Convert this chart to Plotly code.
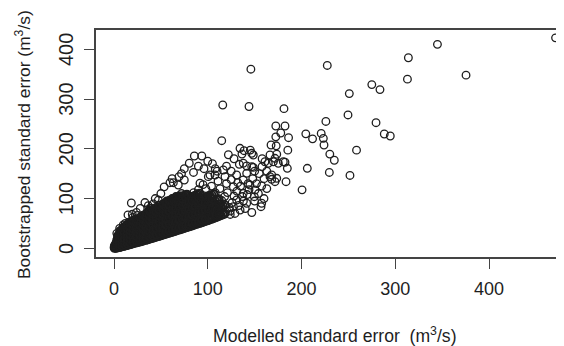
import plotly.graph_objects as go

# ---- Outlying / sparse points (modelled SE, bootstrapped SE) ----
model_se_outer = [471, 345, 314, 227.5, 375.5, 313, 275, 283.7, 251, 249.6, 226, 279.5, 288.3, 294.7,
                  258.7, 221, 223.3, 224, 230.2, 235, 229.7, 251.7, 204.6, 211.8, 206.2, 200.6,
                  146, 116, 144, 181.3, 114.9, 172.6, 182.4, 177.9, 172.6, 186.2, 167.5, 173, 185.4,
                  166.4, 173.6, 180.6, 175.3, 184.9, 164.6, 170, 161, 171.7, 182.4, 157.9, 148.6,
                  141.5, 133.7, 137.9, 146.9, 134.4, 138.7, 145.4, 148.6, 136.5, 146.9, 168.2, 173.6,
                  171.7, 183.5, 168.2, 166.4, 157.5, 149.7, 157.5, 156.8, 134.5, 124, 116.6, 102.4,
                  107.7, 118.4, 130.8, 141.5, 137.9, 127.3, 145, 150.4, 137.9, 130.8, 141.5, 127.3,
                  85.7, 93.7, 80.3, 84.8, 69.3, 75, 63.3, 68.6, 53.5, 59.7, 91.7, 100.6, 18.5, 36.6,
                  41.9, 47.3, 56.2, 14.9, 19.5, 9.9]
boot_se_outer = [423, 410, 383, 367.5, 348, 340, 329, 319, 311, 268, 255, 252.5, 229.7, 225.7,
                 197.3, 231, 221, 207.6, 189.3, 177, 152.5, 146.4, 230, 220, 160.8, 117.5,
                 360, 288, 285, 280.7, 216.3, 245.8, 245.8, 231.8, 224, 222.3, 207.6, 206, 197.3,
                 187.5, 189, 174, 170.9, 160.8, 170.9, 174, 174, 180.9, 173, 164, 162.8,
                 165.4, 168.8, 170.9, 164, 201, 196.2, 197.4, 187.5, 189.5, 191, 147.3, 140.7,
                 133.9, 133.9, 138.7, 144, 125.2, 103.7, 90.5, 83.6, 77, 68, 157.4, 147.3,
                 147.3, 144, 147.3, 150.7, 137.3, 123.8, 127.2, 117.2, 110.5, 97.1, 90.5, 83.6,
                 185.5, 185.5, 170.9, 152.5, 144, 137.3, 131.9, 127.2, 123.5, 131.9, 130.7, 144, 91, 85.6,
                 89, 97, 95, 67, 68.3, 46.8]

# ---- Medium-density points around the edge of the main cloud ----
model_se_mid = [103, 106, 110, 112, 115, 118, 121, 124, 126, 128, 131, 133, 135, 138, 140, 142, 144,
                147, 150, 152, 154, 160, 163, 120, 125, 132, 113, 108, 104, 111, 98, 95, 90, 85, 78,
                72, 66, 62, 88, 93, 112, 119, 123, 129, 137, 143, 148, 155, 160, 163, 150, 158, 120,
                125, 110, 108, 96, 105, 128, 122, 100, 90, 75, 72, 62, 50, 44, 33, 28, 24, 20, 25,
                12, 6, 3]
boot_se_mid = [62, 70, 78, 88, 96, 104, 112, 75, 92, 105, 115, 86, 125, 95, 80, 108, 118,
               72, 95, 130, 110, 100, 120, 130, 138, 132, 120, 112, 125, 135, 120, 128, 118, 112, 108,
               110, 104, 100, 100, 95, 68, 73, 82, 70, 104, 130, 140, 150, 140, 155, 155, 180, 165,
               155, 155, 160, 160, 170, 180, 188, 175, 165, 160, 150, 140, 110, 100, 92, 80, 72, 62, 66,
               50, 40, 30]

# ---- Dense core of the cloud (first set) ----
model_se_core = [0.5, 0.4, 0.6,
                 2.0, 2.1, 1.9, 2.2,
                 4.0, 4.1, 3.9, 4.2, 3.8, 4.0,
                 6.5, 6.4, 6.6, 6.5, 6.3, 6.7, 6.5,
                 9.0, 9.1, 8.9, 9.2, 9.0, 8.8, 9.1,
                 12.0, 12.1, 11.9, 12.2, 12.0, 11.8, 12.1,
                 15.0, 15.2, 14.9, 15.1, 15.0, 14.8, 15.1,
                 18.0, 18.1, 17.9, 18.2, 18.0, 17.8, 18.1,
                 21.5, 21.4, 21.6, 21.5, 21.3, 21.7, 21.5,
                 25.0, 25.1, 24.9, 25.2, 25.0, 24.8,
                 28.5, 28.4, 28.6, 28.5, 28.3, 28.7,
                 32.0, 32.1, 31.9, 32.2, 32.0, 31.8,
                 35.5, 35.4, 35.6, 35.5, 35.3, 35.7,
                 39.0, 39.1, 38.9, 39.2, 39.0, 38.8, 39.1,
                 42.5, 42.4, 42.6, 42.5, 42.3, 42.7,
                 46.0, 46.1, 45.9, 46.2, 46.0, 45.8,
                 49.5, 49.4, 49.6, 49.5, 49.3, 49.7,
                 53.0, 53.1, 52.9, 53.2, 53.0, 52.8,
                 56.5, 56.4, 56.6, 56.5, 56.3, 56.7,
                 60.0, 60.1, 59.9, 60.2, 60.0, 59.8,
                 63.5, 63.4, 63.6, 63.5, 63.3, 63.7,
                 67.0, 67.1, 66.9, 67.2, 67.0, 66.8,
                 70.5, 70.4, 70.6, 70.5, 70.3, 70.7,
                 74.0, 74.1, 73.9, 74.2, 74.0, 73.8,
                 77.5, 77.4, 77.6, 77.5, 77.3, 77.7,
                 81.0, 81.1, 80.9, 81.2, 81.0,
                 84.5, 84.4, 84.6, 84.5, 84.3,
                 88.0, 88.1, 87.9, 88.2, 88.0,
                 91.5, 91.4, 91.6, 91.5, 91.3,
                 95.0, 95.1, 94.9, 95.2,
                 98.5, 98.4, 98.6, 98.5,
                 102.0, 102.1, 101.9, 102.2,
                 106.0, 106.1, 105.9, 106.2,
                 110.0, 110.1, 109.9,
                 114.0, 114.1,
                 118.0, 118.1]
boot_se_core = [0.3, 2.1, 4.5,
                0.8, 3.6, 6.9, 10.2,
                1.5, 5.2, 9.8, 14.1, 19.5, 25.0,
                2.4, 7.3, 12.6, 18.5, 24.0, 30.2, 35.1,
                3.8, 9.1, 15.2, 21.7, 28.3, 34.6, 39.0,
                5.1, 11.4, 18.0, 25.3, 32.6, 39.8, 44.2,
                6.7, 13.9, 21.2, 29.0, 36.4, 43.1, 48.9,
                8.2, 16.5, 24.8, 33.1, 41.0, 48.5, 53.0,
                10.1, 18.7, 27.4, 36.2, 45.0, 52.3, 57.1,
                11.8, 20.6, 30.1, 39.4, 48.2, 56.7,
                13.4, 22.9, 32.7, 42.3, 51.8, 60.1,
                15.6, 25.3, 35.4, 45.6, 55.0, 64.2,
                17.2, 27.8, 38.1, 48.7, 58.6, 67.9,
                19.5, 30.2, 41.0, 51.4, 62.3, 71.5, 80.2,
                21.3, 32.6, 43.8, 54.9, 65.1, 75.4,
                23.4, 35.1, 46.5, 57.8, 68.7, 78.9,
                25.2, 37.4, 49.3, 60.6, 71.9, 82.5,
                27.5, 39.8, 52.1, 63.7, 75.0, 85.8,
                29.4, 42.3, 54.6, 66.9, 78.2, 89.4,
                31.6, 44.7, 57.4, 69.8, 81.5, 92.6,
                33.5, 47.1, 60.2, 72.7, 84.9, 95.8,
                35.8, 49.6, 63.0, 75.9, 88.1, 99.3,
                37.6, 51.9, 65.7, 78.8, 91.4, 102.5,
                39.9, 54.3, 68.5, 81.6, 94.7, 105.2,
                42.0, 56.8, 71.2, 84.7, 97.9, 108.4,
                44.1, 59.2, 74.0, 87.5, 101.0,
                46.3, 61.7, 76.6, 90.6, 104.1,
                48.5, 64.1, 79.5, 93.4, 107.3,
                50.6, 66.6, 82.1, 96.5, 110.2,
                52.8, 69.0, 84.9, 99.6,
                55.1, 71.5, 87.6, 102.7,
                57.3, 74.0, 90.3, 105.8,
                60.2, 77.1, 93.5, 109.1,
                63.0, 80.4, 97.2,
                66.1, 84.0,
                69.3, 87.5]

# ---- Dense core of the cloud (second, interleaved set) ----
model_se_core2 = [1.2, 1.3, 1.1,
                  3.0, 3.1, 2.9, 3.0, 3.2,
                  5.2, 5.3, 5.1, 5.2, 5.0, 5.4,
                  7.7, 7.8, 7.6, 7.7, 7.5, 7.9,
                  10.5, 10.6, 10.4, 10.5, 10.3, 10.7, 10.5,
                  13.5, 13.6, 13.4, 13.5, 13.3, 13.7, 13.5,
                  16.5, 16.6, 16.4, 16.5, 16.3, 16.7, 16.5,
                  19.7, 19.8, 19.6, 19.7, 19.5, 19.9, 19.7,
                  23.2, 23.3, 23.1, 23.2, 23.0, 23.4,
                  26.7, 26.8, 26.6, 26.7, 26.5, 26.9,
                  30.2, 30.3, 30.1, 30.2, 30.0, 30.4,
                  33.7, 33.8, 33.6, 33.7, 33.5, 33.9,
                  37.2, 37.3, 37.1, 37.2, 37.0, 37.4, 37.2,
                  40.7, 40.8, 40.6, 40.7, 40.5, 40.9,
                  44.2, 44.3, 44.1, 44.2, 44.0, 44.4,
                  47.7, 47.8, 47.6, 47.7, 47.5, 47.9,
                  51.2, 51.3, 51.1, 51.2, 51.0, 51.4,
                  54.7, 54.8, 54.6, 54.7, 54.5, 54.9,
                  58.2, 58.3, 58.1, 58.2, 58.0, 58.4,
                  61.7, 61.8, 61.6, 61.7, 61.5, 61.9,
                  65.2, 65.3, 65.1, 65.2, 65.0, 65.4,
                  68.7, 68.8, 68.6, 68.7, 68.5, 68.9,
                  72.2, 72.3, 72.1, 72.2, 72.0, 72.4,
                  75.7, 75.8, 75.6, 75.7, 75.5, 75.9,
                  79.2, 79.3, 79.1, 79.2, 79.0,
                  82.7, 82.8, 82.6, 82.7, 82.5,
                  86.2, 86.3, 86.1, 86.2, 86.0,
                  89.7, 89.8, 89.6, 89.7, 89.5,
                  93.2, 93.3, 93.1, 93.2,
                  96.7, 96.8, 96.6, 96.7,
                  100.2, 100.3, 100.1, 100.2,
                  104.0, 104.1, 103.9, 104.2,
                  108.0, 108.1, 107.9,
                  112.0, 112.1, 111.9,
                  116.0, 116.1]
boot_se_core2 = [1.2, 3.3, 6.0,
                 0.9, 3.4, 7.5, 12.0, 16.5,
                 1.9, 6.2, 11.1, 16.3, 21.5, 27.4,
                 3.0, 8.2, 13.9, 20.1, 26.2, 32.3,
                 4.4, 10.2, 16.6, 23.5, 30.4, 37.1, 42.0,
                 5.9, 12.6, 19.6, 27.1, 34.5, 41.4, 46.5,
                 7.4, 15.2, 23.0, 31.0, 38.7, 45.8, 51.0,
                 9.1, 17.6, 26.1, 34.6, 43.0, 50.4, 55.0,
                 11.0, 19.6, 28.7, 37.8, 46.6, 54.5,
                 12.6, 21.7, 31.4, 40.8, 50.0, 58.4,
                 14.5, 24.1, 34.0, 43.9, 53.4, 62.1,
                 16.4, 26.5, 36.7, 47.1, 56.8, 66.0,
                 18.3, 29.0, 39.5, 50.0, 60.4, 69.7, 76.0,
                 20.4, 31.4, 42.4, 53.1, 63.7, 73.4,
                 22.3, 33.8, 45.1, 56.3, 66.9, 77.1,
                 24.3, 36.2, 47.9, 59.2, 70.3, 80.7,
                 26.3, 38.6, 50.7, 62.1, 73.4, 84.1,
                 28.4, 41.0, 53.3, 65.3, 76.6, 87.6,
                 30.5, 43.5, 56.0, 68.3, 79.8, 91.0,
                 32.5, 45.9, 58.8, 71.2, 83.2, 94.2,
                 34.6, 48.3, 61.6, 74.3, 86.5, 97.5,
                 36.7, 50.7, 64.3, 77.3, 89.7, 100.9,
                 38.7, 53.1, 67.1, 80.2, 93.0, 103.8,
                 40.9, 55.5, 69.8, 83.1, 96.3, 106.8,
                 43.0, 58.0, 72.6, 86.1, 99.4,
                 45.2, 60.4, 75.3, 89.0, 102.5,
                 47.4, 62.9, 78.0, 92.0, 105.7,
                 49.5, 65.3, 80.8, 94.9, 108.7,
                 51.7, 67.8, 83.5, 98.0,
                 53.9, 70.2, 86.2, 101.1,
                 56.2, 72.7, 88.9, 104.2,
                 58.7, 75.5, 91.9, 107.4,
                 61.6, 78.7, 95.3,
                 64.5, 82.2, 99.0,
                 67.7, 85.7]

# ---- Dense core of the cloud (third set, filling the gaps) ----
model_se_core3 = [1.6, 1.7,
                  3.5, 3.6, 3.4, 3.5,
                  5.8, 5.9, 5.7, 5.8, 5.6, 6.0,
                  8.3, 8.4, 8.2, 8.3, 8.1, 8.5,
                  11.2, 11.3, 11.1, 11.2, 11.0, 11.4,
                  14.2, 14.3, 14.1, 14.2, 14.0, 14.4,
                  17.2, 17.3, 17.1, 17.2, 17.0, 17.4,
                  20.5, 20.6, 20.4, 20.5, 20.3, 20.7,
                  24.0, 24.1, 23.9, 24.0, 23.8, 24.2,
                  27.5, 27.6, 27.4, 27.5, 27.3, 27.7,
                  31.0, 31.1, 30.9, 31.0, 30.8, 31.2,
                  34.5, 34.6, 34.4, 34.5, 34.3, 34.7,
                  38.0, 38.1, 37.9, 38.0, 37.8, 38.2,
                  41.5, 41.6, 41.4, 41.5, 41.3, 41.7,
                  45.0, 45.1, 44.9, 45.0, 44.8, 45.2,
                  48.5, 48.6, 48.4, 48.5, 48.3, 48.7,
                  52.0, 52.1, 51.9, 52.0, 51.8, 52.2,
                  55.5, 55.6, 55.4, 55.5, 55.3, 55.7,
                  59.0, 59.1, 58.9, 59.0, 58.8, 59.2,
                  62.5, 62.6, 62.4, 62.5, 62.3, 62.7,
                  66.0, 66.1, 65.9, 66.0, 65.8, 66.2,
                  69.5, 69.6, 69.4, 69.5, 69.3, 69.7,
                  73.0, 73.1, 72.9, 73.0, 72.8,
                  76.5, 76.6, 76.4, 76.5, 76.3,
                  80.0, 80.1, 79.9, 80.0, 79.8,
                  83.5, 83.6, 83.4, 83.5,
                  87.0, 87.1, 86.9, 87.0,
                  90.5, 90.6, 90.4, 90.5,
                  94.0, 94.1, 93.9, 94.0,
                  97.5, 97.6, 97.4,
                  101.0, 101.1, 100.9,
                  105.0, 105.1, 104.9,
                  109.0, 109.1,
                  113.0, 113.1]
boot_se_core3 = [1.0, 3.0,
                 2.0, 5.5, 9.0, 13.0,
                 3.5, 8.0, 13.5, 19.0, 24.5, 30.0,
                 5.5, 11.0, 17.0, 23.0, 29.0, 34.5,
                 7.5, 13.5, 20.0, 27.0, 34.0, 40.5,
                 9.0, 16.0, 23.5, 31.0, 38.5, 45.0,
                 11.0, 19.0, 27.0, 35.0, 43.0, 50.0,
                 13.0, 21.5, 30.0, 39.0, 47.5, 54.0,
                 15.0, 24.0, 33.5, 42.5, 51.5, 58.0,
                 17.0, 26.5, 36.0, 45.5, 55.0, 62.0,
                 19.0, 29.0, 39.0, 49.0, 58.5, 66.0,
                 21.0, 31.5, 42.0, 52.0, 62.0, 70.0,
                 23.0, 34.0, 44.5, 55.0, 65.5, 74.0,
                 25.0, 36.5, 47.5, 58.5, 69.0, 78.0,
                 27.0, 39.0, 50.5, 61.5, 72.5, 82.0,
                 29.0, 41.5, 53.5, 65.0, 76.0, 86.0,
                 31.0, 44.0, 56.5, 68.0, 79.5, 89.0,
                 33.0, 46.5, 59.0, 71.5, 83.0, 92.5,
                 35.0, 49.0, 62.0, 74.5, 86.5, 96.0,
                 37.0, 51.5, 65.0, 77.5, 89.5, 99.0,
                 39.5, 54.0, 67.5, 80.5, 93.0, 102.0,
                 41.5, 56.5, 70.5, 83.5, 96.0, 105.0,
                 43.5, 59.0, 73.0, 86.5, 99.0,
                 45.5, 61.5, 76.0, 89.5, 102.0,
                 48.0, 64.0, 79.0, 92.5, 105.0,
                 50.0, 66.5, 81.5, 95.5,
                 52.0, 69.0, 84.5, 98.5,
                 54.0, 71.5, 87.0, 101.5,
                 56.5, 74.0, 90.0, 104.0,
                 58.5, 76.5, 93.0,
                 61.0, 79.0, 96.0,
                 64.0, 82.0, 99.5,
                 67.0, 85.5,
                 70.0, 89.0]

tick_vals = [0, 100, 200, 300, 400]
tick_text = ["0", "100", "200", "300", "400"]
x_title = "Modelled standard error\u00a0 (m<sup>3</sup>/s)"
y_title = "Bootstrapped standard error (m<sup>3</sup>/s)"

x_core = model_se_core + model_se_core2 + model_se_core3
y_core = boot_se_core + boot_se_core2 + boot_se_core3
x_rest = model_se_mid + model_se_outer
y_rest = boot_se_mid + boot_se_outer

FONT = "Liberation Sans, Arial, sans-serif"
INK = "#1e1e1e"

# The page body has an 8 px default margin, so the figure is 8 px smaller
# and every offset is measured from (8, 8) on screen.
PLOT_L, PLOT_T, PLOT_W, PLOT_H = 88, 22, 468, 227

fig = go.Figure()
fig.add_trace(go.Scatter(
    x=x_core, y=y_core, mode="markers",
    marker=dict(symbol="circle-open", size=7.6, color=INK, line=dict(width=1.8, color=INK)),
    hoverinfo="skip", showlegend=False,
))
fig.add_trace(go.Scatter(
    x=x_rest, y=y_rest, mode="markers",
    marker=dict(symbol="circle-open", size=7.6, color=INK, line=dict(width=1.3, color=INK)),
    hoverinfo="skip", showlegend=False,
))

annotations = [
    dict(text=x_title, xref="paper", yref="paper",
         x=(335 - 96) / PLOT_W, y=-(335 - 257) / PLOT_H, xanchor="center", yanchor="middle",
         showarrow=False, font=dict(size=17.6, color=INK)),
    dict(text=y_title, xref="paper", yref="paper",
         x=-(96 - 23) / PLOT_W, y=(257 - 145) / PLOT_H, xanchor="center", yanchor="middle",
         textangle=-90, showarrow=False, font=dict(size=17.4, color=INK)),
]
# y tick labels (rotated, as in base-R plots), placed on the y axis scale
for v, t in zip(tick_vals, tick_text):
    annotations.append(dict(text=t, xref="paper", yref="y", x=-(96 - 65.8) / PLOT_W, y=v,
                            xanchor="center", yanchor="middle", textangle=-90,
                            showarrow=False, font=dict(size=20, color=INK)))

fig.update_layout(
    template="none",
    width=556, height=338,
    margin=dict(l=PLOT_L, r=0, t=PLOT_T, b=338 - PLOT_T - PLOT_H, autoexpand=False),
    paper_bgcolor="white", plot_bgcolor="white",
    font=dict(family=FONT, size=18, color=INK),
    xaxis=dict(range=[-19.2, 480], tickvals=tick_vals, ticktext=tick_text,
               ticks="outside", ticklen=10, ticklabelstandoff=5,
               tickwidth=1, tickcolor="#444", showgrid=False, zeroline=False,
               showline=True, linecolor="#444", linewidth=1.5, mirror=True,
               automargin=False, tickfont=dict(size=18, color=INK)),
    yaxis=dict(range=[-17.5, 438.8], tickvals=tick_vals, showticklabels=False,
               ticks="outside", ticklen=10,
               tickwidth=1, tickcolor="#444", showgrid=False, zeroline=False,
               showline=True, linecolor="#444", linewidth=1.5, mirror=False,
               automargin=False),
    annotations=annotations,
)

fig.write_html("out.html")
